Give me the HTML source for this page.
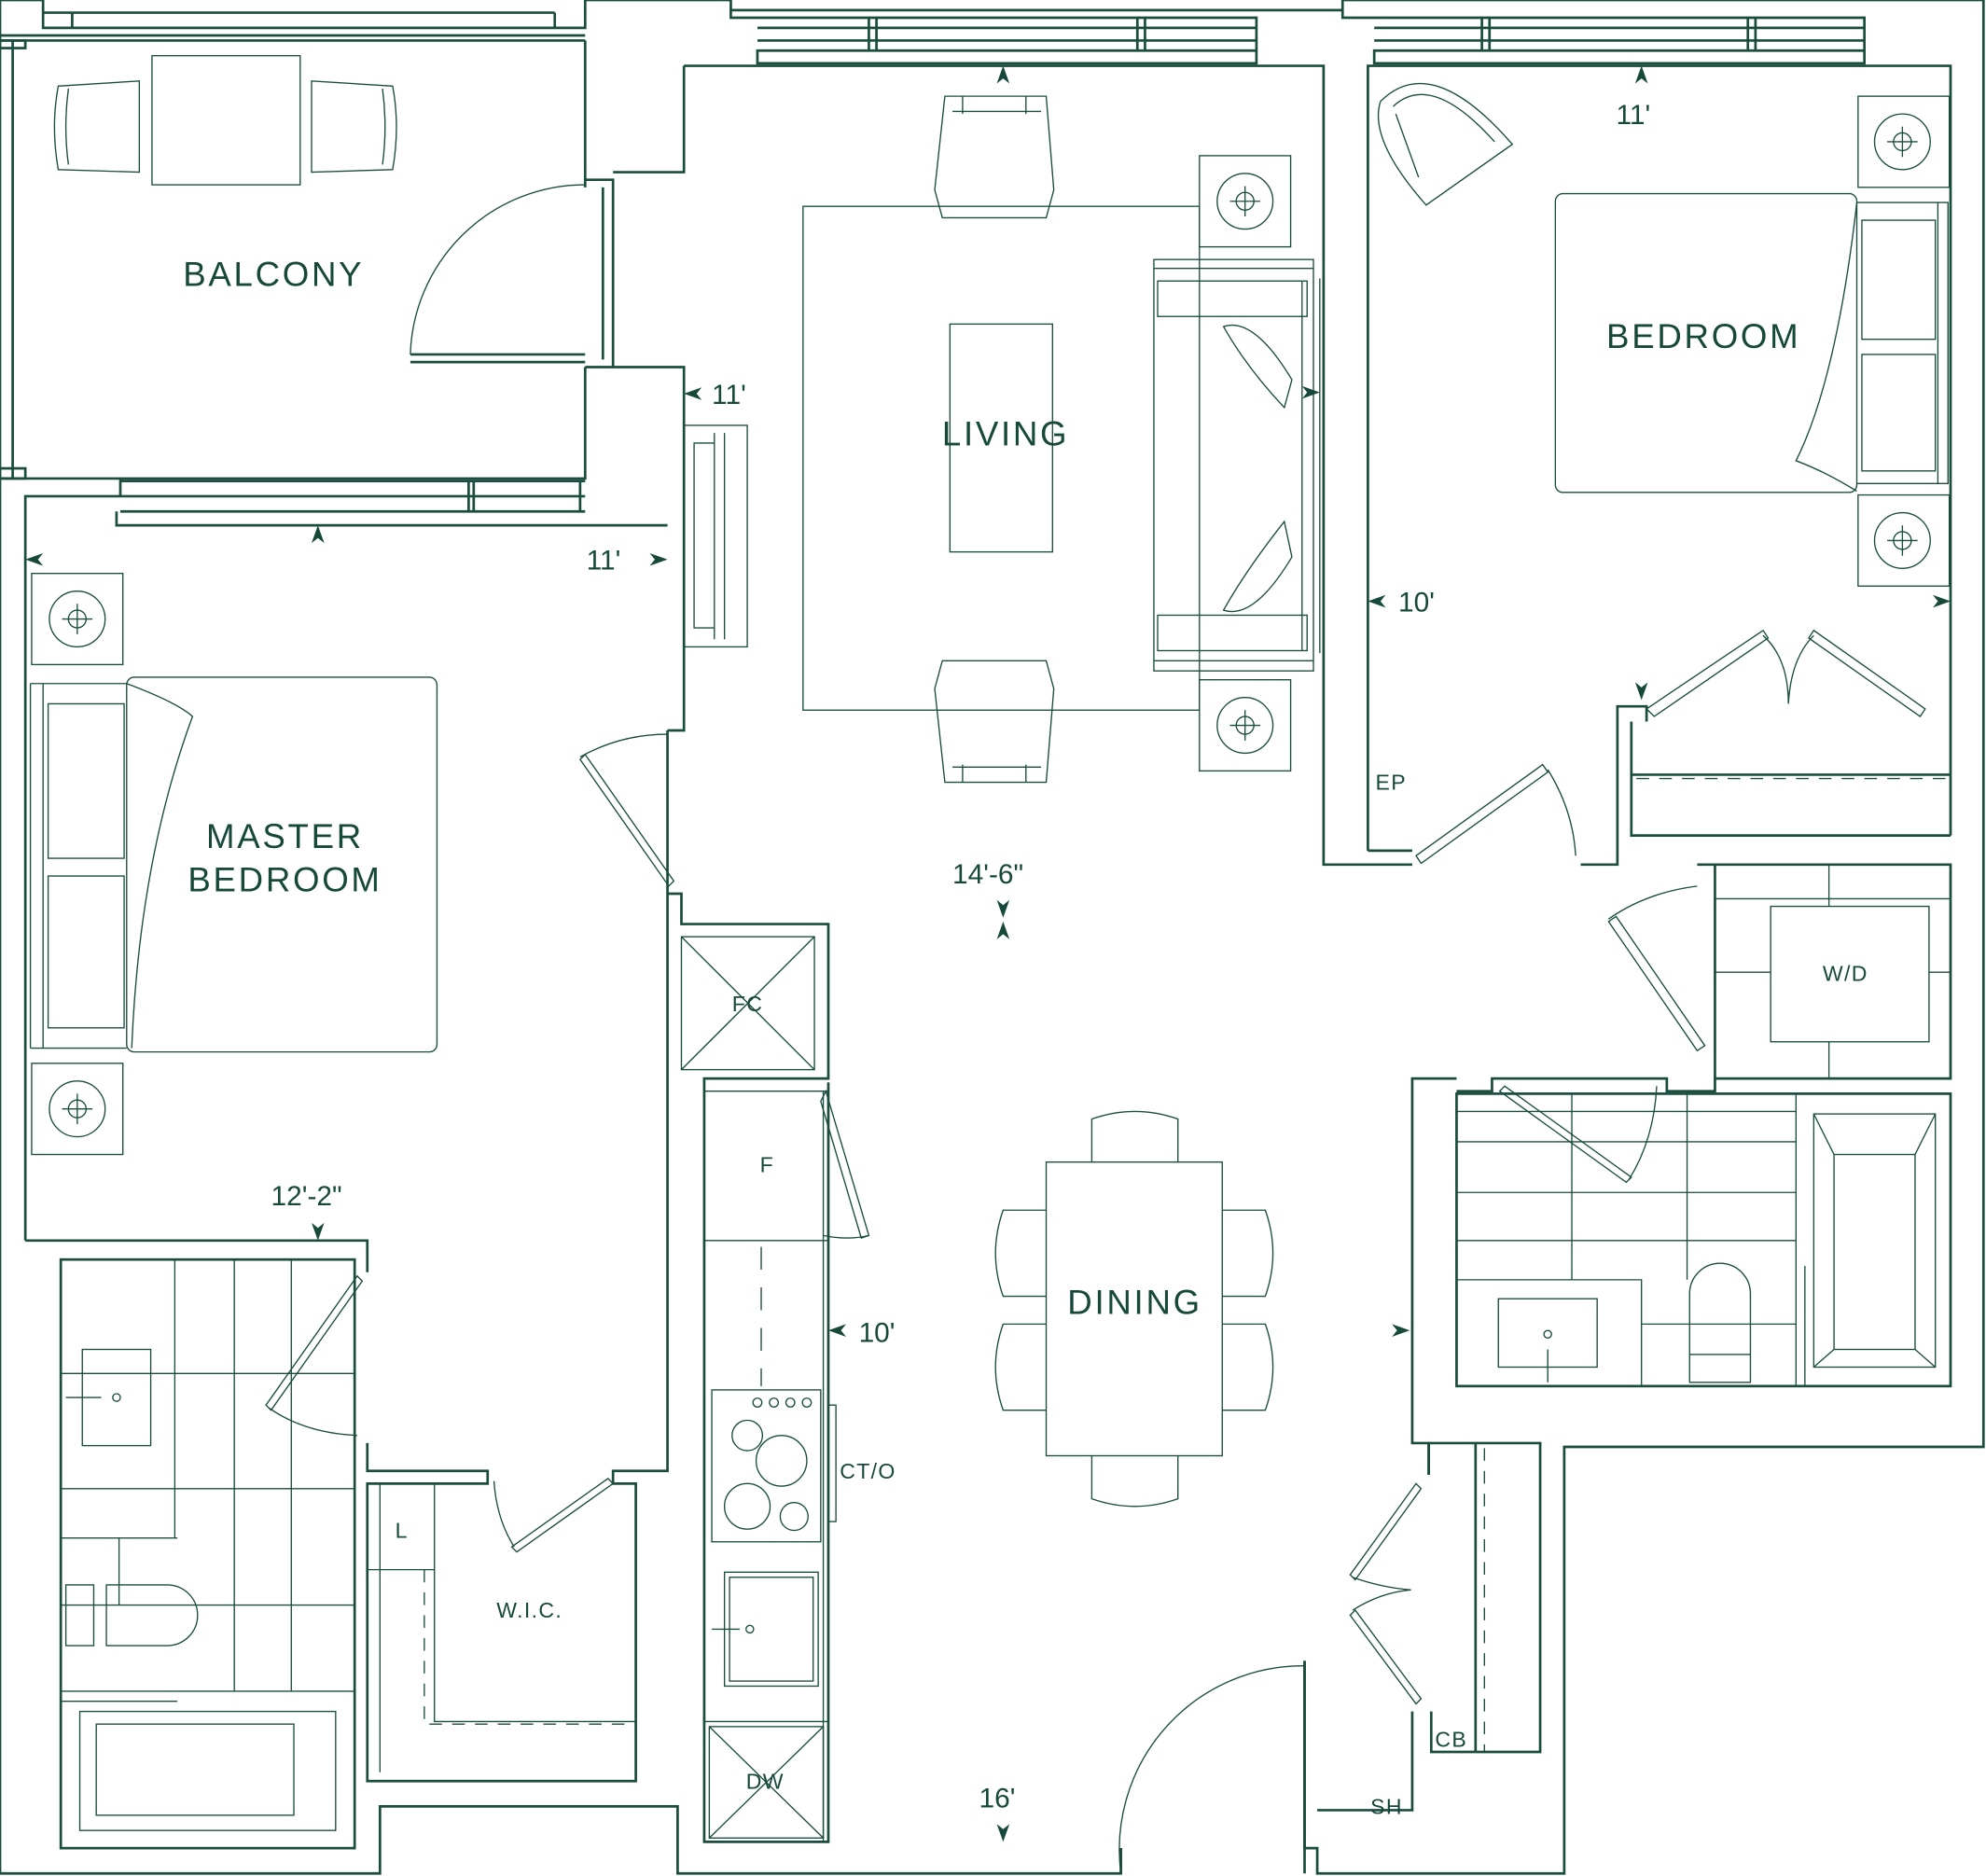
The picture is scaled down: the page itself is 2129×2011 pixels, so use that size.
<!DOCTYPE html>
<html><head><meta charset="utf-8"><style>
html,body{margin:0;padding:0;background:#fff}
svg{display:block}
text{font-family:"Liberation Sans",sans-serif;fill:#17493a}
</style></head><body>
<svg width="2129" height="2011" viewBox="0 0 1568 1482" preserveAspectRatio="none" xmlns="http://www.w3.org/2000/svg">
<g fill="none" stroke="#1b4d3e" stroke-width="2">
<!-- outer shell -->
<path d="M0,0 H34 V22 H462 V0 H577 V8 H1060 V0 H1566 V1143 H1235 V1480 H1040 V1460 H1030 V1312"/>
<path d="M0,0 V1480 H300 V1427 H535 V1480 H885 V1460"/>
<!-- balcony -->
<path d="M0,28 H462 M0,32 H462 M10,32 V378 M0,378 H95 M462,32 V148 M462,290 V378 H95"/>
<rect x="0" y="32" width="20" height="6"/><rect x="0" y="370" width="20" height="8"/>
<path d="M34,10 H438 M57,10 V22 M438,10 V22"/>
<path d="M95,378 V392 H20 V980 M95,380 H462 M95,392 H462 M95,404 H462 M92,404 V415 H527 M370,380 V404 M374,380 V404 M458,380 V404"/>
<path d="M462,142 H484 V290 H462 M476,148 V284 M484,136 H540 V52 M484,290 H540 V577 H527"/>
<path d="M324,280 H462 M324,286 H462"/>
<path d="M324,280 A138,138 0 0 1 462,146" stroke-width="1"/>
<path d="M577,8 V14 H992 V50 H598 V40 H992 M598,14 H992 M598,22 H992 M598,32 H992 M686,14 V40 M692,14 V40 M898,14 V40 M904,14 V40"/>
<path d="M540,52 H1045 V683 H1115 M1080,672 V52 H1540 V660"/>
<path d="M1060,8 V14 H1472 V50 H1085 V40 H1472 M1085,14 H1472 M1085,22 H1472 M1085,32 H1472 M1170,14 V40 M1176,14 V40 M1380,14 V40 M1386,14 V40"/>
<path d="M1080,672 H1115 M1248,683 H1277 V558 H1300 V570 M1288,570 V660 H1540 M1288,612 H1540" />
<path d="M1292,615 H1540" stroke-dasharray="10,8" stroke-width="1"/>
<path d="M1300,560 L1392,498 L1396,504 L1306,566 Z M1520,560 L1432,498 L1428,504 L1516,566 Z" stroke-width="1"/>
<path d="M1392,502 Q1412,520 1412,556 Q1414,520 1432,502" stroke-width="1"/>
<path d="M1118,676 L1218,604 L1222,610 L1122,682 Z" stroke-width="1"/>
<path d="M1222,608 Q1242,640 1244,676" stroke-width="1"/>
<path d="M1340,683 H1540 V852 H1354 V683 M1354,852 V862 H1316 V852 H1178 V862 H1150 M1150,852 H1115 V1140 H1128 V1165"/>
<rect x="1398" y="716" width="125" height="107" stroke-width="1"/>
<path d="M1354,710 H1540 M1354,768 H1398 M1523,768 H1540 M1444,683 V716 M1444,823 V852" stroke-width="1"/>
<path d="M1270,728 L1340,830 L1346,826 L1276,724 Z" stroke-width="1"/>
<path d="M1270,726 Q1300,705 1340,700" stroke-width="1"/>
<rect x="1150" y="864" width="390" height="231"/>
<path d="M1418,864 V1095 M1150,878 H1418 M1150,902 H1418 M1150,942 H1418 M1150,980 H1418 M1241,864 V1011 M1332,864 V1011 M1150,1011 H1296 V1095 M1296,1046 H1418" stroke-width="1"/>
<path d="M1188,858 L1288,930 L1284,934 L1184,862 Z M1308,858 Q1306,900 1286,932" stroke-width="1"/>
<rect x="1183" y="1026" width="78" height="54" stroke-width="1"/>
<circle cx="1222" cy="1054" r="3" stroke-width="1"/><path d="M1222,1066 V1092" stroke-width="1"/>
<path d="M1334,1070 V1022 A24,24 0 0 1 1382,1022 V1070 Z M1334,1070 H1382 V1092 H1334 Z" stroke-width="1"/>
<rect x="1432" y="880" width="96" height="200" stroke-width="1"/><rect x="1448" y="912" width="64" height="154" stroke-width="1"/>
<path d="M1432,880 L1448,912 M1528,880 L1512,912 M1432,1080 L1448,1066 M1528,1080 L1512,1066 M1425,1000 V1094" stroke-width="1"/>
<path d="M1128,1165 V1140 H1216 V1384 H1130 V1352 M1165,1140 V1384 M1115,1352 V1430 H1040 M1030,1312 V1480"/>
<path d="M1172,1144 V1384" stroke-dasharray="10,8" stroke-width="1"/>
<path d="M1118,1172 L1066,1244 L1070,1248 L1122,1176 Z M1118,1346 L1066,1276 L1070,1272 L1122,1342 Z M1068,1246 Q1090,1254 1114,1256 Q1090,1258 1068,1272" stroke-width="1"/>
<path d="M885,1480 A145,145 0 0 1 1030,1316" stroke-width="1"/><path d="M1030,1316 V1460 M885,1460 V1480" />
<path d="M20,980 H290 V1005 M527,577 V1162 H484 V1172 H502 V1407 H290 V1172 H385 V1162 H290 V1140 M527,706 V1162"/>
<path d="M527,706 H538 V730 H654 V852 H556 V1455 H654 V855"/>
<path d="M458,600 L528,700 L532,696 L462,596 Z M458,598 Q490,580 527,580" stroke-width="1"/>
<rect x="48" y="995" width="232" height="465"/>
<path d="M138,995 V1215 M48,1085 H280 M48,1176 H280 M48,1215 H140 M48,1268 H280 M48,1336 H280 M230,995 V1336 M185,995 V1336 M94,1215 V1268" stroke-width="1"/>
<path d="M282,1008 L210,1110 L214,1114 L286,1012 Z M212,1112 Q240,1132 282,1134" stroke-width="1"/>
<rect x="65" y="1066" width="54" height="76" stroke-width="1"/>
<path d="M52,1104 H80" stroke-width="1"/><circle cx="92" cy="1104" r="3" stroke-width="1"/>
<path d="M84,1252 H132 A24,24 0 0 1 132,1300 H84 Z M52,1252 H74 V1300 H52 Z" stroke-width="1"/>
<rect x="63" y="1352" width="202" height="94" stroke-width="1"/><rect x="76" y="1362" width="156" height="72" stroke-width="1"/>
<path d="M48,1344 H140" stroke-width="1"/>
<path d="M300,1172 V1400 M343,1172 V1360 H502 M290,1240 H343" stroke-width="1"/>
<path d="M335,1240 V1362 H502" stroke-dasharray="10,8" stroke-width="1"/>
<path d="M404,1222 L480,1168 L484,1172 L408,1226 Z M390,1170 Q392,1200 406,1222" stroke-width="1"/>
<rect x="538" y="740" width="105" height="105" stroke-width="1"/><path d="M538,740 L643,845 M643,740 L538,845" stroke-width="1"/>
<path d="M556,862 H654 M556,980 H654 M556,862 V1455 M650,862 V1455 M556,1360 H654" stroke-width="1"/>
<path d="M652,862 L686,976 L680,978 L648,870 Z M650,976 Q670,980 686,976" stroke-width="1"/>
<path d="M601,985 V1095" stroke-dasharray="18,14" stroke-width="1"/>
<rect x="562" y="1098" width="86" height="120" stroke-width="1"/>
<circle cx="590" cy="1134" r="12" stroke-width="1"/><circle cx="617" cy="1154" r="20" stroke-width="1"/><circle cx="590" cy="1190" r="18" stroke-width="1"/><circle cx="627" cy="1198" r="11" stroke-width="1"/>
<circle cx="598" cy="1108" r="3.5" stroke-width="1"/><circle cx="611" cy="1108" r="3.5" stroke-width="1"/><circle cx="624" cy="1108" r="3.5" stroke-width="1"/><circle cx="637" cy="1108" r="3.5" stroke-width="1"/>
<rect x="654" y="1110" width="6" height="92" stroke-width="1"/>
<rect x="572" y="1242" width="74" height="90" stroke-width="1"/><rect x="576" y="1246" width="66" height="82" stroke-width="1"/>
<path d="M562,1287 H584" stroke-width="1"/><circle cx="592" cy="1287" r="3" stroke-width="1"/>
<rect x="560" y="1364" width="90" height="88" stroke-width="1"/><path d="M560,1364 L650,1452 M650,1364 L560,1452" stroke-width="1"/>
<rect x="540" y="336" width="50" height="175" stroke-width="1"/>
<path d="M564,342 V505 M572,342 V505 M564,350 H548 V496 H564" stroke-width="1"/>
<rect x="634" y="163" width="313" height="398" stroke-width="1"/>
<rect x="750" y="256" width="81" height="180" stroke-width="1"/>
<rect x="947" y="123" width="72" height="72" stroke-width="1"/><rect x="947" y="537" width="72" height="72" stroke-width="1"/>
<circle cx="983" cy="159" r="22" stroke-width="1"/><circle cx="983" cy="159" r="7" stroke-width="1"/><path d="M971,159 H995 M983,147 V171" stroke-width="1"/>
<circle cx="983" cy="573" r="22" stroke-width="1"/><circle cx="983" cy="573" r="7" stroke-width="1"/><path d="M971,573 H995 M983,561 V585" stroke-width="1"/>
<rect x="911" y="205" width="126" height="325" stroke-width="1"/>
<rect x="914" y="222" width="118" height="28" stroke-width="1"/><rect x="914" y="486" width="118" height="28" stroke-width="1"/>
<path d="M1028,222 V514 M1042,220 V516 M911,212 H1037 M911,522 H1037" stroke-width="1"/>
<path d="M966,258 Q990,250 1020,300 L1014,322 Q984,290 966,258 Z M966,482 Q990,490 1020,440 L1014,412 Q984,450 966,482 Z" stroke-width="1"/>
<path d="M746,76 H826 L832,150 L826,172 H744 L738,150 Z M752,88 H822 M760,76 V90 M810,76 V90" stroke-width="1"/>
<path d="M746,618 H826 L832,544 L826,522 H744 L738,544 Z M752,606 H822 M760,604 V618 M810,604 V618" stroke-width="1"/>
<rect x="826" y="918" width="139" height="232" stroke-width="1"/>
<path d="M862,918 V884 Q896,872 930,884 V918 M862,1150 V1184 Q896,1196 930,1184 V1150" stroke-width="1"/>
<path d="M826,956 H792 Q780,990 792,1024 H826 M826,1046 H792 Q780,1080 792,1114 H826" stroke-width="1"/>
<path d="M965,956 H999 Q1011,990 999,1024 H965 M965,1046 H999 Q1011,1080 999,1114 H965" stroke-width="1"/>
<rect x="120" y="44" width="117" height="102" stroke-width="1"/>
<path d="M110,64 V136 L46,134 Q40,100 46,68 Z M54,70 Q50,100 54,130 M246,64 V136 L310,134 Q316,100 310,68 Z M302,70 Q306,100 302,130" stroke-width="1"/>
<rect x="100" y="535" width="245" height="296" rx="6" stroke-width="1"/>
<path d="M24,540 V828 M34,540 V828 M24,540 H100 M24,828 H100" stroke-width="1"/>
<path d="M38,556 H98 V678 H38 Z M38,692 H98 V812 H38 Z" stroke-width="1"/>
<path d="M100,540 Q140,555 152,566 Q110,680 104,828" stroke-width="1"/>
<rect x="25" y="453" width="72" height="72" stroke-width="1"/><rect x="25" y="840" width="72" height="72" stroke-width="1"/>
<circle cx="61" cy="489" r="22" stroke-width="1"/><circle cx="61" cy="489" r="7" stroke-width="1"/><path d="M49,489 H73 M61,477 V501" stroke-width="1"/>
<circle cx="61" cy="876" r="22" stroke-width="1"/><circle cx="61" cy="876" r="7" stroke-width="1"/><path d="M49,876 H73 M61,864 V888" stroke-width="1"/>
<rect x="1228" y="153" width="238" height="236" rx="6" stroke-width="1"/>
<path d="M1466,160 H1538 V382 H1466 M1530,160 V382" stroke-width="1"/>
<path d="M1470,174 H1528 V268 H1470 Z M1470,280 H1528 V372 H1470 Z" stroke-width="1"/>
<path d="M1466,160 Q1450,300 1418,364 Q1440,372 1466,388" stroke-width="1"/>
<rect x="1467" y="76" width="72" height="72" stroke-width="1"/><rect x="1467" y="391" width="72" height="72" stroke-width="1"/>
<circle cx="1502" cy="112" r="22" stroke-width="1"/><circle cx="1502" cy="112" r="7" stroke-width="1"/><path d="M1490,112 H1514 M1502,100 V124" stroke-width="1"/>
<circle cx="1502" cy="427" r="22" stroke-width="1"/><circle cx="1502" cy="427" r="7" stroke-width="1"/><path d="M1490,427 H1514 M1502,415 V439" stroke-width="1"/>
<path d="M1090,80 Q1130,40 1194,114 L1126,162 Q1080,110 1090,80 Z M1100,84 Q1130,56 1180,112 M1102,90 L1120,140" stroke-width="1"/>
</g>
<g fill="#17493a">
<path d="M792,52 l-5,14 l5,-4 l5,4 Z"/><path d="M1296,52 l-5,14 l5,-4 l5,4 Z"/><path d="M251,415 l-5,14 l5,-4 l5,4 Z"/>
<path d="M540,311 l14,-5 l-4,5 l4,5 Z"/><path d="M20,442 l14,-5 l-4,5 l4,5 Z"/><path d="M527,442 l-14,-5 l4,5 l-4,5 Z"/>
<path d="M1042,310 l-14,-5 l4,5 l-4,5 Z"/><path d="M1080,475 l14,-5 l-4,5 l4,5 Z"/><path d="M1540,475 l-14,-5 l4,5 l-4,5 Z"/>
<path d="M1296,553 l-5,-14 l5,4 l5,-4 Z"/><path d="M792,725 l-5,-14 l5,4 l5,-4 Z"/><path d="M792,728 l-5,14 l5,-4 l5,4 Z"/>
<path d="M251,980 l-5,-14 l5,4 l5,-4 Z"/><path d="M654,1051 l14,-5 l-4,5 l4,5 Z"/><path d="M1113,1051 l-14,-5 l4,5 l-4,5 Z"/>
<path d="M792,1455 l-5,-14 l5,4 l5,-4 Z"/>
</g>
<g font-size="27" letter-spacing="2">
<text x="216" y="226" text-anchor="middle">BALCONY</text>
<text x="794" y="352" text-anchor="middle">LIVING</text>
<text x="1345" y="275" text-anchor="middle">BEDROOM</text>
<text x="225" y="670" text-anchor="middle">MASTER</text>
<text x="225" y="704" text-anchor="middle">BEDROOM</text>
<text x="896" y="1038" text-anchor="middle">DINING</text>
</g>
<g font-size="22">
<text x="562" y="319">11'</text><text x="463" y="450">11'</text><text x="1276" y="98">11'</text>
<text x="1104" y="483">10'</text><text x="678" y="1060">10'</text>
<text x="752" y="698">14'-6"</text><text x="214" y="952">12'-2"</text><text x="773" y="1428">16'</text>
</g>
<g font-size="17" letter-spacing="1">
<text x="1086" y="624">EP</text><text x="1439" y="775">W/D</text><text x="578" y="799">FC</text>
<text x="600" y="926">F</text><text x="663" y="1168">CT/O</text><text x="312" y="1215">L</text>
<text x="392" y="1278">W.I.C.</text><text x="589" y="1413">DW</text><text x="1133" y="1380">CB</text><text x="1082" y="1433">SH</text>
</g>
</svg>
</body></html>
